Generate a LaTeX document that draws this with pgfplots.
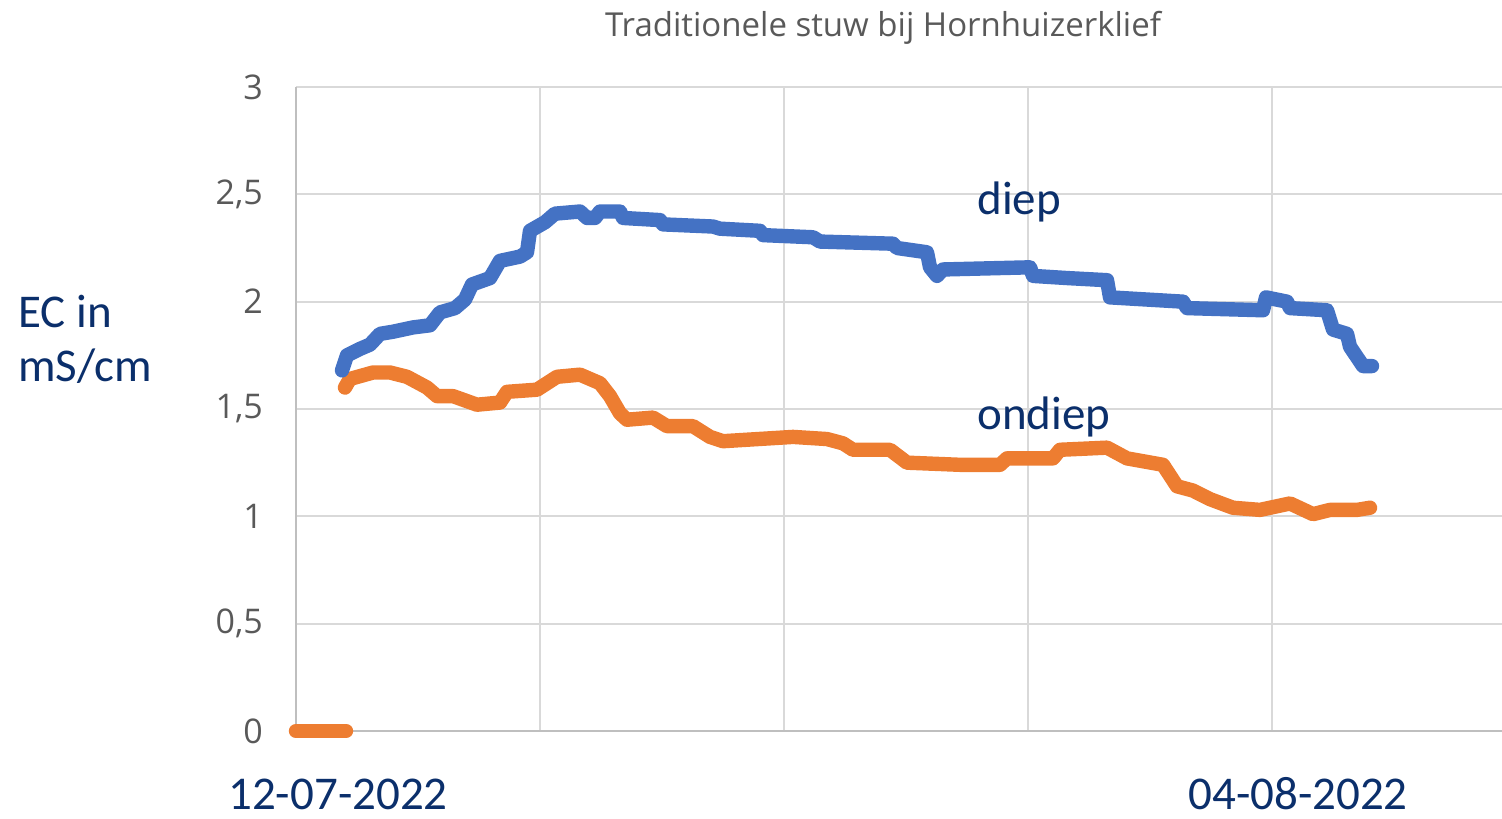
\documentclass[border=0pt]{standalone}
\usepackage{fontspec}
\setmainfont{Carlito}
\newfontfamily\titlefont{Open Sans}
\usepackage{pgfplots}
\pgfplotsset{compat=1.18}
\definecolor{cblue}{HTML}{4472C4}
\definecolor{corange}{HTML}{ED7D31}
\definecolor{dblue}{HTML}{0B2F6B}
\definecolor{gridc}{HTML}{D9D9D9}
\definecolor{txtgray}{HTML}{595959}
\begin{document}
\begin{tikzpicture}
\useasboundingbox (-148pt,-43.5pt) rectangle (603pt,365.5pt);
\begin{axis}[
  at={(0,0)}, anchor=south west,
  scale only axis, width=603pt, height=322pt,
  xmin=0, xmax=1206, ymin=0, ymax=3,
  clip=false,
  axis lines*=left,
  axis line style={draw=black!25, line width=1pt},
  xtick={0,244,488,732,976}, xticklabels={},
  ytick={0,0.5,1,1.5,2,2.5,3},
  yticklabels={0,{0,5},1,{1,5},2,{2,5},3},
  major tick length=0pt,
  grid=major,
  major grid style={draw=gridc, line width=1pt},
  yticklabel style={font=\titlefont\fontsize{17}{17}\selectfont, text=txtgray, anchor=east, xshift=-13pt},
  /pgf/number format/assume math mode=true,
]
\addplot[corange, line width=7.2pt, line cap=round, line join=round] coordinates {
(0,0) (50,0)
};
\addplot[corange, line width=7.2pt, line cap=round, line join=round] coordinates {
(49,1.60) (54,1.64) (77,1.67) (94,1.67) (111,1.65) (131,1.60) (141,1.56) (157,1.56)
(181,1.52) (204,1.53) (211,1.58) (241,1.59) (261,1.65) (284,1.66) (304,1.62) (314,1.56)
(324,1.48) (331,1.45) (357,1.46) (371,1.42) (397,1.42) (414,1.37) (427,1.35) (497,1.37)
(531,1.36) (547,1.34) (557,1.31) (594,1.31) (611,1.25) (664,1.24) (704,1.24) (711,1.27)
(757,1.27) (764,1.31) (811,1.32) (831,1.27) (867,1.24) (881,1.14) (897,1.12) (914,1.08)
(937,1.04) (964,1.03) (994,1.06) (1017,1.01) (1034,1.03) (1061,1.03) (1074,1.04)
};
\addplot[cblue, line width=7.2pt, line cap=round, line join=round] coordinates {
(46,1.68) (51,1.75) (64,1.78) (74,1.80) (84,1.85) (97,1.86) (117,1.88) (134,1.89)
(144,1.95) (159,1.97) (169,2.01) (176,2.08) (194,2.11) (204,2.19) (224,2.21) (231,2.23)
(234,2.33) (249,2.37) (259,2.41) (284,2.42) (291,2.39) (299,2.39) (304,2.42) (324,2.42)
(327,2.39) (364,2.38) (367,2.36) (417,2.35) (424,2.34) (464,2.33) (467,2.31) (517,2.30)
(524,2.28) (597,2.27) (601,2.25) (631,2.23) (634,2.16) (641,2.12) (647,2.15) (734,2.16)
(737,2.12) (771,2.11) (811,2.10) (814,2.02) (887,2.00) (891,1.97) (967,1.96) (970,2.02)
(991,2.00) (994,1.97) (1031,1.96) (1037,1.87) (1051,1.85) (1054,1.79) (1067,1.70) (1076,1.70)
};
\end{axis}
\node[anchor=base, text=txtgray, font=\titlefont\fontsize{16.5}{16.5}\selectfont, inner sep=0pt] at (293.5pt,347pt) {Traditionele stuw bij Hornhuizerklief};
\begin{scope}[every node/.style={text=dblue, font=\fontsize{23.5}{23.5}\selectfont, inner sep=0pt}]
\node[anchor=base west] at (-139pt,201.5pt) {EC in};
\node[anchor=base west] at (-139pt,174.5pt) {mS/cm};
\node[anchor=base west] at (340.5pt,258pt) {diep};
\node[anchor=base west] at (340.5pt,150.5pt) {ondiep};
\node[anchor=base] at (21pt,-39pt) {12-07-2022};
\node[anchor=base] at (501pt,-39pt) {04-08-2022};
\end{scope}
\end{tikzpicture}
\end{document}
